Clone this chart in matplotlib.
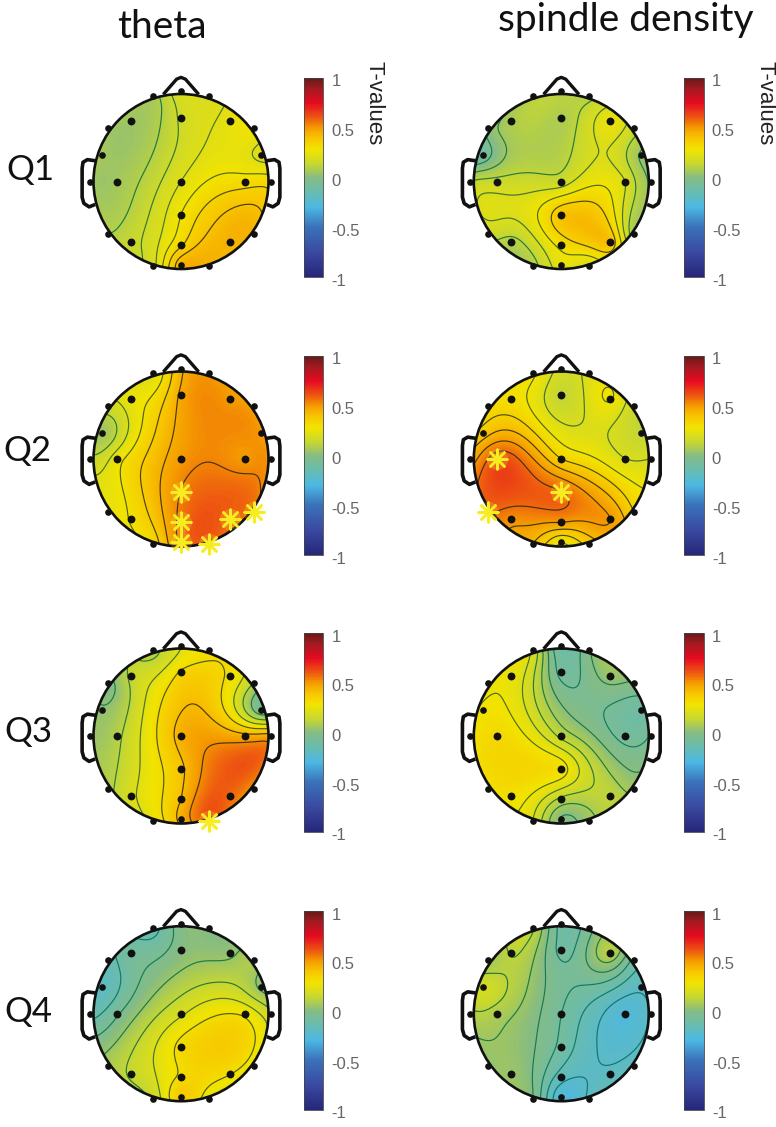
import numpy as np
import matplotlib
matplotlib.use("Agg")
import matplotlib.pyplot as plt
from matplotlib.colors import LinearSegmentedColormap, Normalize
from matplotlib.cm import ScalarMappable
from matplotlib.patches import Circle
from matplotlib.transforms import ScaledTranslation

W, H = 776, 1127
# electrode layout (unit head radius)
ELEC_X = [0, -.32, .32, -.57, 0, .56, -.84, .83, -.90, .91, -1.04, 1.03, -.73, .73, 0, 0, -.57, 0, .56, -.84, .83, -.32, .32, 0]
ELEC_Y = [1.03, .98, .98, .69, .73, .69, .61, .61, .30, .30, 0, 0, 0, 0, 0, -.38, -.69, -.725, -.69, -.60, -.60, -.97, -.97, -.95]

# T-values read per electrode
theta_q1 = [.20, .08, .20, .05, .17, .24, .06, .27, .06, .20, .06, .31, .06, .31, .22, .28, .14, .33, .44, .10, .43, .20, .44, .44]
theta_q2 = [.44, .22, .50, .25, .47, .50, .18, .48, .05, .50, .15, .50, .26, .50, .50, .54, .30, .56, .58, .25, .55, .33, .59, .56]
theta_q3 = [.22, .10, .30, .14, .33, .30, .00, .12, .03, -.05, .05, .45, .10, .45, .45, .40, .20, .42, .58, .10, .50, .25, .60, .45]
theta_q4 = [.00, -.15, .00, -.08, .00, .03, -.15, .08, -.20, .03, -.15, .15, -.05, .28, .20, .32, .14, .31, .30, .08, .25, .15, .25, .38]
spindle_q1 = [.10, .10, .10, .08, .08, .25, .00, .16, -.08, .04, .12, .04, .15, .20, .16, .40, .10, .30, .40, .16, .08, .10, .20, .24]
spindle_q2 = [.18, .28, .22, .30, .13, .28, .30, .15, .38, .13, .45, .20, .62, .20, .35, .58, .52, .50, .50, .58, .35, .42, .38, .28]
spindle_q3 = [-.12, .18, .00, .25, -.08, .04, .25, .00, .28, -.10, .28, -.05, .32, -.08, .12, .30, .30, .12, .12, .30, .05, .20, .05, .00]
spindle_q4 = [-.10, .12, -.04, .12, -.10, .10, .05, -.10, .18, -.20, .10, -.20, .08, -.26, -.08, -.10, .04, -.18, -.20, .03, -.18, -.02, -.20, -.27]

# significant electrodes (indices into the layout)
stars_theta_q2 = [15, 17, 23, 22, 18, 20]
stars_spindle_q2 = [12, 15, 19]
stars_theta_q3 = [22]

row_labels = ["Q1", "Q2", "Q3", "Q4"]
col_titles = ["theta", "spindle density"]
cbar_ticks = [-1, -.5, 0, .5, 1]
cbar_ticklabels = ["-1", "-0.5", "0", "0.5", "1"]

cmap = LinearSegmentedColormap.from_list("muted_jet", [
    (0.000, "#26267a"), (0.125, "#3a4aa0"), (0.250, "#3a72ba"), (0.350, "#4cb8e4"),
    (0.425, "#68bcb0"), (0.500, "#86bc84"), (0.530, "#a4c85c"), (0.570, "#c8d830"),
    (0.640, "#f2e400"), (0.700, "#f8c400"), (0.750, "#f59c00"), (0.800, "#ee5a10"), (0.875, "#e60a20"),
    (0.950, "#a01a20"), (1.000, "#661a1a")])
line_cmap = LinearSegmentedColormap.from_list("lines", [
    (0.000, "#0a4a90"), (0.250, "#0a6a90"), (0.425, "#0f7a70"), (0.550, "#1f7a40"),
    (0.625, "#55702a"), (0.700, "#4a3a10"), (1.000, "#3a1a10")])
norm = Normalize(-1, 1)
plt.rcParams["font.family"] = ["Lato", "DejaVu Sans"]

fig = plt.figure(figsize=(W / 100, H / 100), dpi=100)

def px_axes(x0, y0, x1, y1):
    return fig.add_axes([x0 / W, 1 - y1 / H, (x1 - x0) / W, (y1 - y0) / H])

def field(vals, gx, gy):
    ex, ey, v = np.array(ELEC_X), np.array(ELEC_Y), np.array(vals)
    def g(d):
        with np.errstate(divide="ignore", invalid="ignore"):
            out = d ** 2 * (np.log(d) - 1)
        return np.nan_to_num(out)
    A = g(np.hypot(ex[:, None] - ex[None], ey[:, None] - ey[None]))
    w = np.linalg.solve(A, v)
    return np.sum(g(np.hypot(gx[..., None] - ex, gy[..., None] - ey)) * w, axis=-1)

R = 87.5
SPAN = 1.3

def topo(cx, cy, vals, stars):
    ax = px_axes(cx - SPAN * R, cy - SPAN * R, cx + SPAN * R, cy + SPAN * R)
    ax.set_xlim(-SPAN, SPAN); ax.set_ylim(-SPAN, SPAN); ax.axis("off")
    xs = np.linspace(-1, 1, 301)
    gx, gy = np.meshgrid(xs, xs)
    z = field(vals, gx, gy)
    inside = np.hypot(gx, gy) <= 1
    clip = Circle((0, 0), 1, transform=ax.transData)
    im = ax.imshow(z, extent=(-1, 1, -1, 1), origin="lower", cmap=cmap, norm=norm, interpolation="bilinear", zorder=1)
    im.set_clip_path(clip)
    levels = np.linspace(z[inside].min(), z[inside].max(), 8)[1:-1]
    cols = [line_cmap(norm(l)) for l in levels]
    cs = ax.contour(gx, gy, z, levels=levels, colors=cols, linewidths=0.85, zorder=2)
    cs.set_clip_path(clip)
    ax.add_patch(Circle((0, 0), 1, fill=False, ec="#111111", lw=1.9, zorder=3))
    # nose and ears
    ax.plot([-.19, -.05, 0, .05, .19], [1.01, 1.17, 1.19, 1.17, 1.01], color="#111111", lw=2.4, zorder=3, solid_joinstyle="round")
    for s in (-1, 1):
        ax.plot([s * 1.0, s * 1.07, s * 1.12, s * 1.13, s * 1.13, s * 1.11, s * 1.05, s * 1.0],
                [.24, .25, .22, .15, -.18, -.25, -.29, -.27], color="#111111", lw=2.6, zorder=0, solid_joinstyle="round")
    ex, ey = np.array(ELEC_X), np.array(ELEC_Y)
    outer = np.hypot(ex, ey) > .94
    ax.scatter(ex[~outer], ey[~outer], s=32, c="#111111", lw=0, zorder=4)
    ax.scatter(ex[outer], ey[outer], s=23, c="#111111", lw=0, zorder=4)
    if stars:
        sx, sy = ex[stars], ey[stars]
        ax.scatter(sx, sy, s=230, c="#fff27a", lw=0, alpha=.18, zorder=5, clip_on=False)
        ax.scatter(sx, sy, s=200, marker=(8, 2, 0), c="#f7ec1e", lw=1.8, zorder=6, clip_on=False)
    return ax

def cbar(x0, y0):
    cax = px_axes(x0, y0, x0 + 19.5, y0 + 199)
    cb = fig.colorbar(ScalarMappable(norm=norm, cmap=cmap), cax=cax)
    cb.set_ticks(cbar_ticks, labels=cbar_ticklabels)
    cb.outline.set_linewidth(.6); cb.outline.set_edgecolor("#444444")
    cax.tick_params(length=0, pad=6, labelsize=12, labelcolor="#666666", labelfontfamily="Liberation Sans")
    off = ScaledTranslation(0, -2.5 / 100, fig.dpi_scale_trans)
    for t in cax.get_yticklabels():
        t.set_transform(t.get_transform() + off)
    return cax

centers_y = [181.5, 459, 736, 1013.7]
cb_tops = [78, 356, 633, 911]
left, right = 181, 561.3
theta_all = [theta_q1, theta_q2, theta_q3, theta_q4]
spindle_all = [spindle_q1, spindle_q2, spindle_q3, spindle_q4]
star_sets = [([], []), (stars_theta_q2, stars_spindle_q2), (stars_theta_q3, []), ([], [])]
for i in range(4):
    topo(left, centers_y[i], theta_all[i], star_sets[i][0])
    topo(right, centers_y[i], spindle_all[i], star_sets[i][1])
    cbar(303.5, cb_tops[i])
    cbar(684, cb_tops[i])

def ftext(x, y, s, **kw):
    fig.text(x / W, 1 - y / H, s, **kw)

ftext(162, 27, col_titles[0], ha="center", va="center", fontsize=28, color="#111111")
ftext(626, 20, col_titles[1], ha="center", va="center", fontsize=28, color="#111111")
for lab, x, y in zip(row_labels, [6, 3, 4, 4], [170, 451, 732, 1012]):
    ftext(x, y, lab, ha="left", va="center", fontsize=25, color="#111111")
for x in (374, 765):
    ftext(x, 103, "T-values", rotation=270, ha="center", va="center", fontsize=16, color="#222222", family="Liberation Sans")

fig.savefig("out.png", dpi=100)
